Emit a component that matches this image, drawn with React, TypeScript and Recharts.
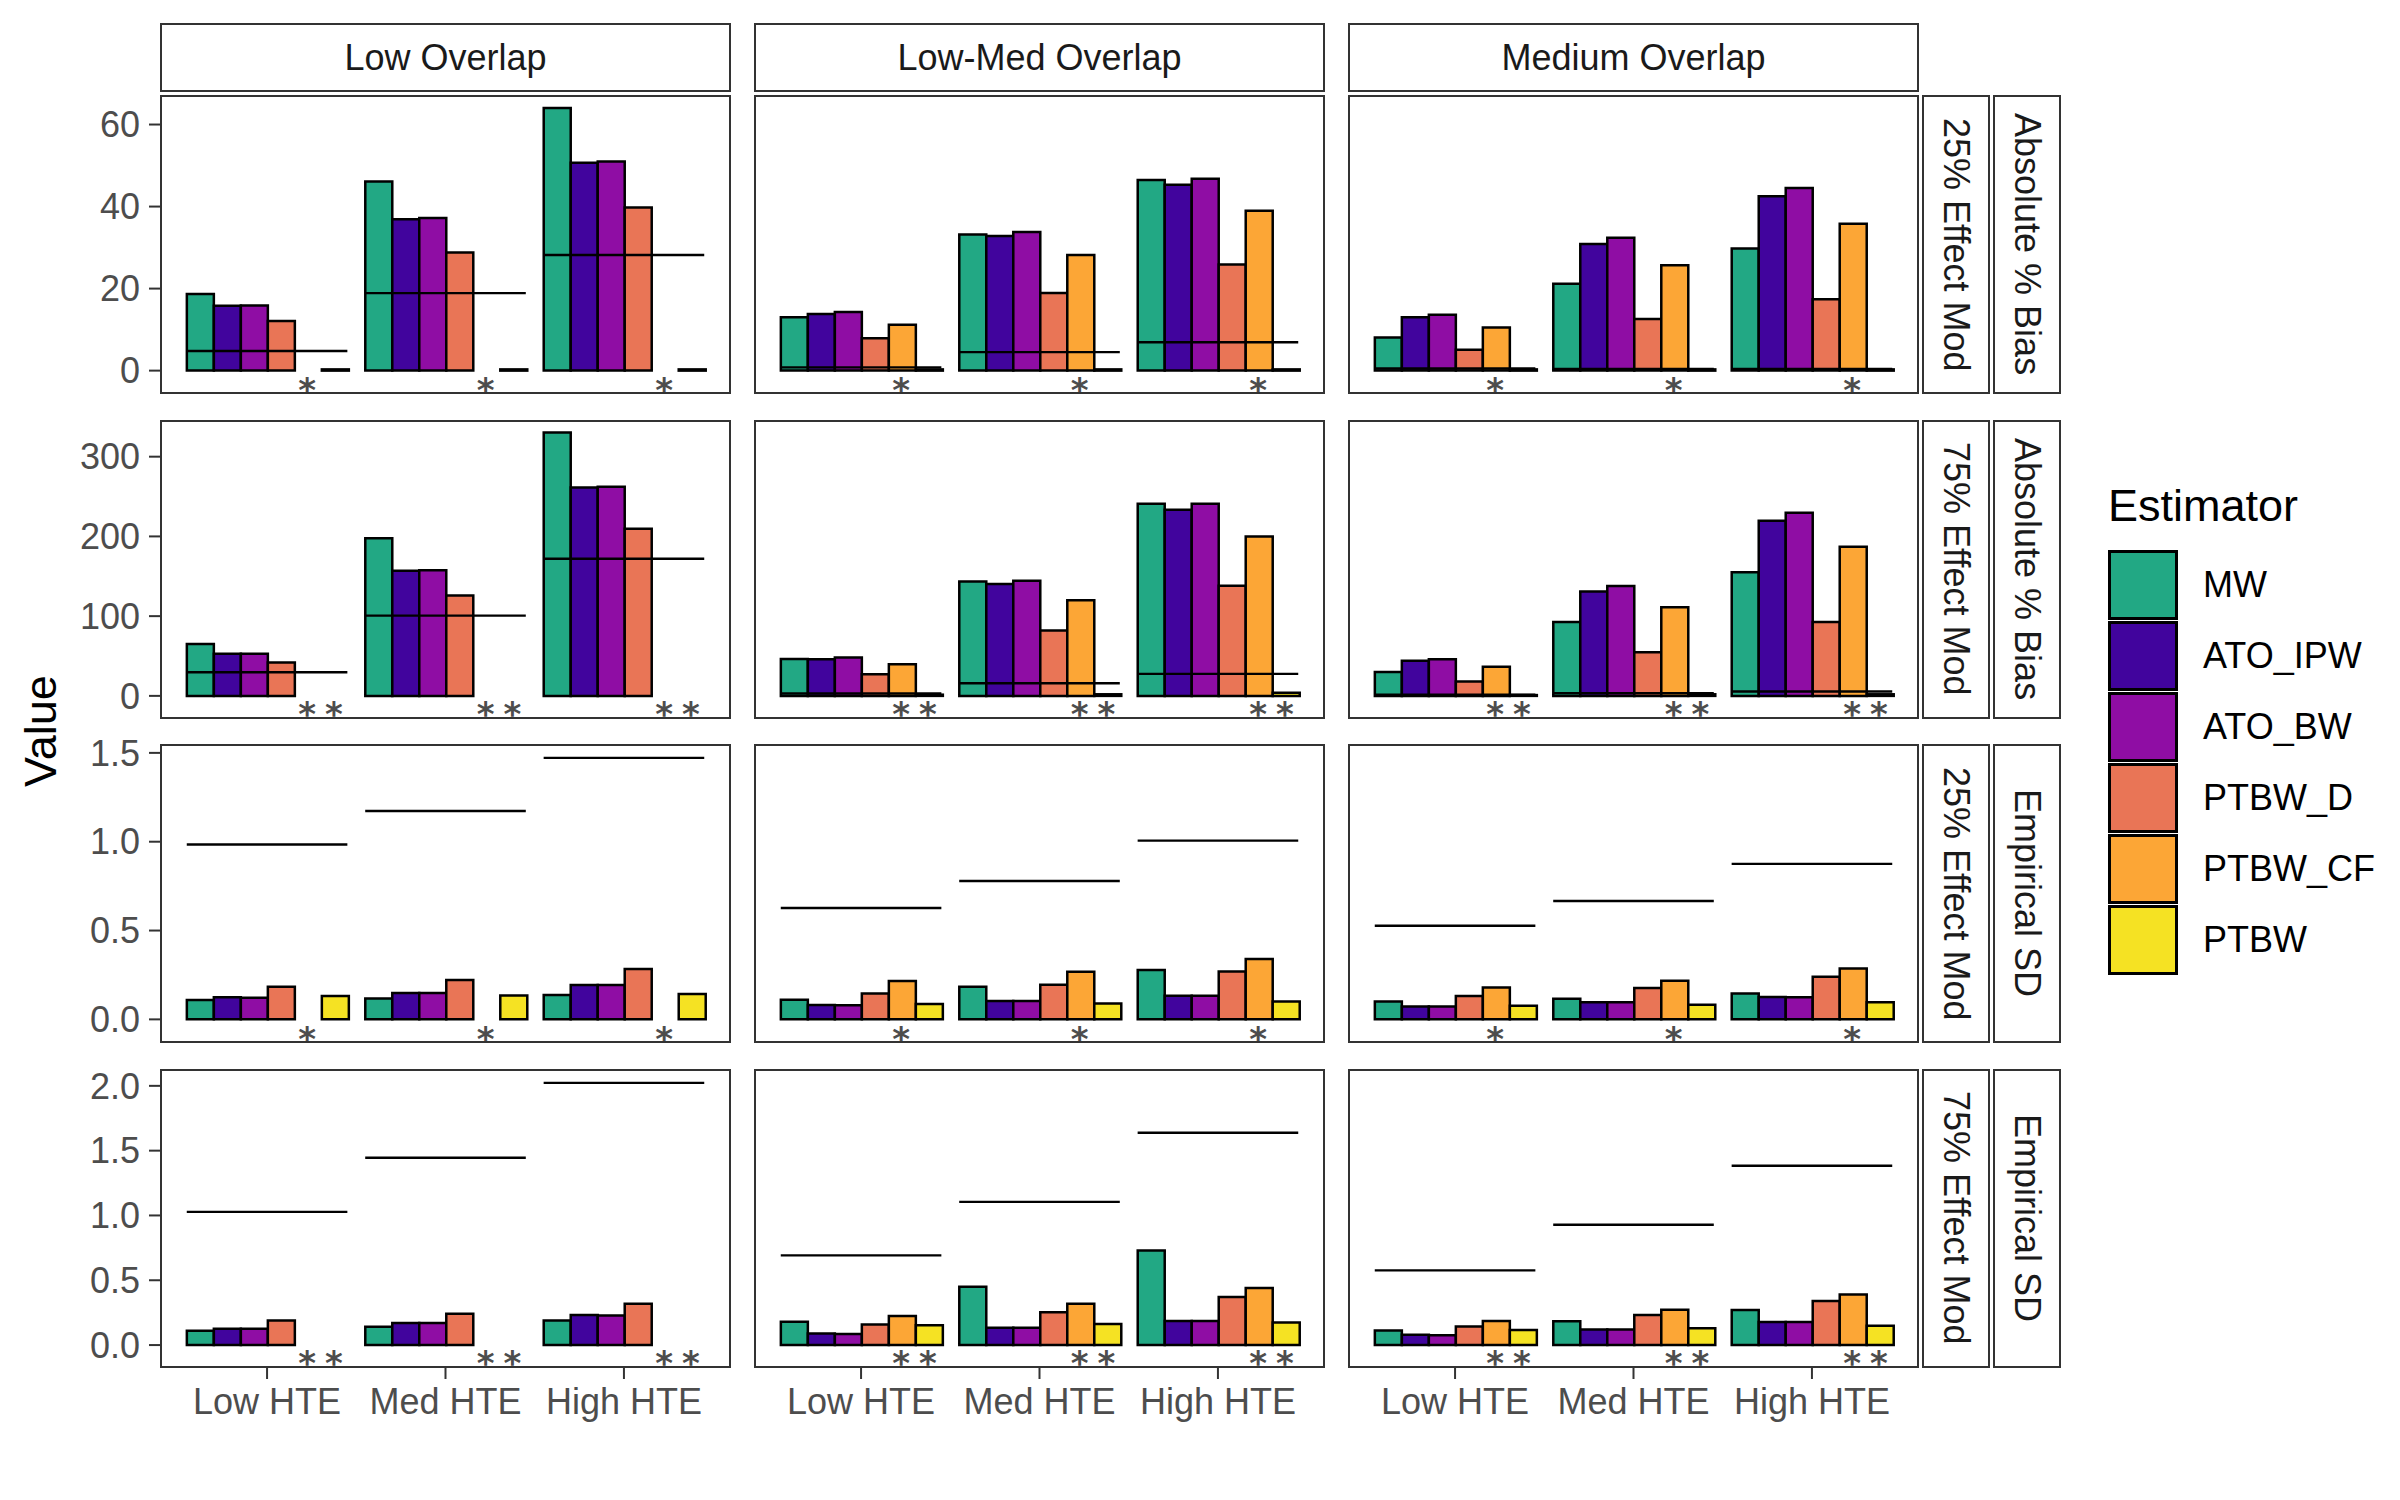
import React from "react";
import { ComposedChart, Bar, Scatter, XAxis, YAxis, ReferenceLine } from "recharts";

const FONT = '"Liberation Sans", Arial, Helvetica, sans-serif';

// ---- categories ----
const hteGroups = ["Low HTE", "Med HTE", "High HTE"];
const overlaps = ["Low Overlap", "Low-Med Overlap", "Medium Overlap"];
const effectMods = ["25% Effect Mod", "75% Effect Mod", "25% Effect Mod", "75% Effect Mod"];
const metrics = ["Absolute % Bias", "Absolute % Bias", "Empirical SD", "Empirical SD"];
const estimators = ["MW", "ATO_IPW", "ATO_BW", "PTBW_D", "PTBW_CF", "PTBW"];
const estimatorColors = ["#22A884", "#41049D", "#8F0DA4", "#E97556", "#FCA636", "#F5E223"];

// ---- values: one row per HTE group, one column per estimator ----
// 25% effect mod, absolute % bias
const bias25Low = [
  [18.7, 15.8, 15.9, 12.1, null, 0.3],
  [46.1, 36.9, 37.2, 28.8, null, 0.3],
  [64.0, 50.7, 51.0, 39.8, null, 0.3],
];
const bias25LowMed = [
  [13.0, 13.8, 14.3, 7.9, 11.2, 0.3],
  [33.2, 32.8, 33.8, 18.9, 28.2, 0.3],
  [46.5, 45.3, 46.8, 25.9, 39.0, 0.3],
];
const bias25Medium = [
  [8.1, 13.0, 13.6, 5.1, 10.5, 0.3],
  [21.2, 30.9, 32.4, 12.6, 25.7, 0.3],
  [29.8, 42.5, 44.5, 17.4, 35.8, 0.3],
];
// 75% effect mod, absolute % bias
const bias75Low = [
  [65.0, 52.7, 52.7, 41.8, null, null],
  [197.7, 156.8, 157.6, 125.8, null, null],
  [330.4, 261.4, 262.2, 209.5, null, null],
];
const bias75LowMed = [
  [46.4, 46.0, 48.1, 27.2, 39.7, 1.5],
  [143.5, 140.2, 144.3, 82.0, 120.0, 2.0],
  [241.0, 233.5, 241.0, 138.0, 200.0, 4.0],
];
const bias75Medium = [
  [30.1, 43.9, 46.0, 18.0, 36.4, 1.0],
  [92.5, 131.0, 137.7, 54.8, 111.3, 2.0],
  [155.0, 219.7, 229.7, 92.5, 187.0, 2.0],
];
// 25% effect mod, empirical SD
const sd25Low = [
  [0.109, 0.124, 0.122, 0.184, null, 0.131],
  [0.118, 0.148, 0.148, 0.222, null, 0.135],
  [0.137, 0.193, 0.193, 0.283, null, 0.143],
];
const sd25LowMed = [
  [0.111, 0.081, 0.079, 0.146, 0.216, 0.086],
  [0.184, 0.103, 0.103, 0.195, 0.268, 0.09],
  [0.278, 0.133, 0.133, 0.27, 0.34, 0.1],
];
const sd25Medium = [
  [0.1, 0.073, 0.073, 0.131, 0.18, 0.077],
  [0.116, 0.096, 0.096, 0.176, 0.218, 0.083],
  [0.146, 0.126, 0.124, 0.24, 0.287, 0.096],
];
// 75% effect mod, empirical SD
const sd75Low = [
  [0.111, 0.126, 0.126, 0.19, null, null],
  [0.141, 0.17, 0.17, 0.242, null, null],
  [0.19, 0.231, 0.229, 0.319, null, null],
];
const sd75LowMed = [
  [0.18, 0.09, 0.085, 0.159, 0.224, 0.152],
  [0.45, 0.134, 0.134, 0.254, 0.319, 0.162],
  [0.73, 0.185, 0.185, 0.37, 0.44, 0.175],
];
const sd75Medium = [
  [0.113, 0.08, 0.075, 0.144, 0.185, 0.116],
  [0.183, 0.121, 0.121, 0.231, 0.272, 0.129],
  [0.27, 0.177, 0.177, 0.339, 0.39, 0.149],
];

// reference (horizontal) lines: per overlap, per HTE group
const refBias25 = [[4.8, 18.9, 28.2], [0.8, 4.5, 6.9], [0.5, 0.4, 0.4]];
const refBias75 = [[29.6, 100.7, 171.9], [3.0, 15.9, 27.6], [1.5, 3.3, 5.4]];
const refSd25 = [[0.984, 1.173, 1.472], [0.627, 0.779, 1.006], [0.527, 0.666, 0.875]];
const refSd75 = [[1.028, 1.445, 2.023], [0.692, 1.105, 1.638], [0.576, 0.928, 1.383]];

// asterisk markers (below the axis) by row
const starEstimators25 = ["PTBW_CF"];
const starEstimators75 = ["PTBW_CF", "PTBW"];
const starY = [-3, -14, -0.069, -0.087];

// y scales by row
const yDomains = [[-5.7, 67.2], [-29, 346], [-0.133, 1.55], [-0.177, 2.13]];
const yTicks = [[0, 20, 40, 60], [0, 100, 200, 300], [0, 0.5, 1, 1.5], [0, 0.5, 1, 1.5, 2]];

const panelValues = [
  [bias25Low, bias25LowMed, bias25Medium],
  [bias75Low, bias75LowMed, bias75Medium],
  [sd25Low, sd25LowMed, sd25Medium],
  [sd75Low, sd75LowMed, sd75Medium],
];
const panelRefs = [refBias25, refBias75, refSd25, refSd75];
const rowStars = [starEstimators25, starEstimators75, starEstimators25, starEstimators75];

// ---- layout ----
const PANEL_W = 571;
const PANEL_H = 299;
const COL_X = [160, 754, 1348];
const ROW_Y = [95, 419.5, 744, 1068.5];
const Y_AXIS_W = 100;
const X_AXIS_H = 70;
const EDGE = 24; // extra room above/below the plot so texts are not clipped
const GROUP_FRAC = 0.9;

const StarShape = (props: any) => {
  const fs = 34;
  return (
    <text
      x={props.cx}
      y={props.cy + 0.56 * fs}
      textAnchor="middle"
      fontSize={fs}
      fontWeight="bold"
      fontFamily='"DejaVu Sans", sans-serif'
      fill="#4D4D4D"
    >
      *
    </text>
  );
};

const Panel = ({ row, col }: { row: number; col: number }) => {
  const isLeft = col === 0;
  const isBottom = row === 3;
  const values = panelValues[row][col];
  const refs = panelRefs[row][col];
  const data = hteGroups.map((h, i) => {
    const d: any = { hte: h };
    estimators.forEach((e, k) => (d[e] = values[i][k]));
    return d;
  });
  const pad = PANEL_W / 32;
  const band = (PANEL_W - 2 * pad) / 3;
  const gapPx = Math.round((band * (1 - GROUP_FRAC)) / 2);
  const slot = GROUP_FRAC / estimators.length;
  const stars: any[] = [];
  hteGroups.forEach((_, i) => {
    rowStars[row].forEach((e) => {
      const k = estimators.indexOf(e);
      stars.push({ sx: i + (1 - GROUP_FRAC) / 2 + slot * (k + 0.5), sy: starY[row] });
    });
  });
  const w = PANEL_W + (isLeft ? Y_AXIS_W : 0);
  const h = PANEL_H + (isBottom ? X_AXIS_H : 0) + 2 * EDGE;
  const fmt = (v: number) => (row >= 2 ? v.toFixed(1) : String(v));
  return (
    <div style={{ position: "absolute", left: COL_X[col] - (isLeft ? Y_AXIS_W : 0), top: ROW_Y[row] - EDGE }}>
      <ComposedChart
        width={w}
        height={h}
        data={data}
        margin={{ top: EDGE, right: 0, bottom: EDGE, left: 0 }}
        barCategoryGap={gapPx}
        barGap={0}
      >
        <XAxis
          xAxisId="cat"
          dataKey="hte"
          type="category"
          padding={{ left: pad, right: pad }}
          hide={!isBottom}
          height={X_AXIS_H}
          interval={0}
          axisLine={false}
          tickSize={11}
          tickMargin={9}
          tickLine={{ stroke: "#333333", strokeWidth: 2 }}
          tick={{ fill: "#4D4D4D", fontSize: 36, fontFamily: FONT }}
        />
        <XAxis xAxisId="num" dataKey="sx" type="number" domain={[0, 3]} padding={{ left: pad, right: pad }} hide />
        <YAxis
          type="number"
          domain={yDomains[row]}
          ticks={yTicks[row]}
          interval={0}
          hide={!isLeft}
          width={Y_AXIS_W}
          axisLine={false}
          tickSize={11}
          tickMargin={9}
          tickFormatter={fmt}
          tickLine={{ stroke: "#333333", strokeWidth: 2 }}
          tick={{ fill: "#4D4D4D", fontSize: 36, fontFamily: FONT }}
        />
        {estimators.map((e, k) => (
          <Bar
            key={e}
            xAxisId="cat"
            dataKey={e}
            fill={estimatorColors[k]}
            stroke="#000000"
            strokeWidth={2.5}
            isAnimationActive={false}
          />
        ))}
        {refs.map((v, i) => (
          <ReferenceLine
            key={`ref-${i}`}
            xAxisId="num"
            segment={[
              { x: i + (1 - GROUP_FRAC) / 2, y: v },
              { x: i + (1 + GROUP_FRAC) / 2, y: v },
            ]}
            stroke="#000000"
            strokeWidth={2.4}
          />
        ))}
        <Scatter xAxisId="num" data={stars} dataKey="sy" shape={StarShape} isAnimationActive={false} />
      </ComposedChart>
    </div>
  );
};

const stripStyle: React.CSSProperties = {
  position: "absolute",
  boxSizing: "border-box",
  border: "2px solid #333333",
  background: "#FFFFFF",
  color: "#1A1A1A",
  fontFamily: FONT,
  fontSize: 36,
  display: "flex",
  alignItems: "center",
  justifyContent: "center",
};

export default function App() {
  return (
    <div style={{ position: "absolute", left: 0, top: 0, width: 2400, height: 1500, background: "#FFFFFF", fontFamily: FONT }}>
      {ROW_Y.map((_, r) => COL_X.map((_, c) => <Panel key={`p-${r}-${c}`} row={r} col={c} />))}

      {/* panel borders */}
      {ROW_Y.map((y, r) =>
        COL_X.map((x, c) => (
          <div
            key={`b-${r}-${c}`}
            style={{ position: "absolute", left: x, top: y, width: PANEL_W, height: PANEL_H, boxSizing: "border-box", border: "2px solid #333333", pointerEvents: "none" }}
          />
        ))
      )}

      {/* top strips */}
      {overlaps.map((o, c) => (
        <div key={o} style={{ ...stripStyle, left: COL_X[c], top: 23, width: PANEL_W, height: 69 }}>
          {o}
        </div>
      ))}

      {/* right strips */}
      {ROW_Y.map((y, r) => (
        <React.Fragment key={`rs-${r}`}>
          <div style={{ ...stripStyle, left: 1922, top: y, width: 68, height: PANEL_H }}>
            <span style={{ writingMode: "vertical-rl" }}>{effectMods[r]}</span>
          </div>
          <div style={{ ...stripStyle, left: 1993, top: y, width: 68, height: PANEL_H }}>
            <span style={{ writingMode: "vertical-rl" }}>{metrics[r]}</span>
          </div>
        </React.Fragment>
      ))}

      {/* y axis title */}
      <div
        style={{
          position: "absolute",
          left: 40,
          top: 731,
          transform: "translate(-50%, -50%) rotate(-90deg)",
          fontSize: 45,
          color: "#000000",
          whiteSpace: "nowrap",
          lineHeight: 1,
        }}
      >
        Value
      </div>

      {/* legend */}
      <div style={{ position: "absolute", left: 2108, top: 483, fontSize: 45, lineHeight: 1, color: "#000000" }}>Estimator</div>
      {estimators.map((e, k) => (
        <React.Fragment key={`lg-${e}`}>
          <div
            style={{
              position: "absolute",
              left: 2108,
              top: 550 + 71 * k,
              width: 70,
              height: 70,
              boxSizing: "border-box",
              border: "3px solid #000000",
              background: estimatorColors[k],
            }}
          />
          <div
            style={{
              position: "absolute",
              left: 2203,
              top: 550 + 71 * k,
              height: 70,
              display: "flex",
              alignItems: "center",
              fontSize: 36,
              color: "#000000",
            }}
          >
            {e}
          </div>
        </React.Fragment>
      ))}
    </div>
  );
}
